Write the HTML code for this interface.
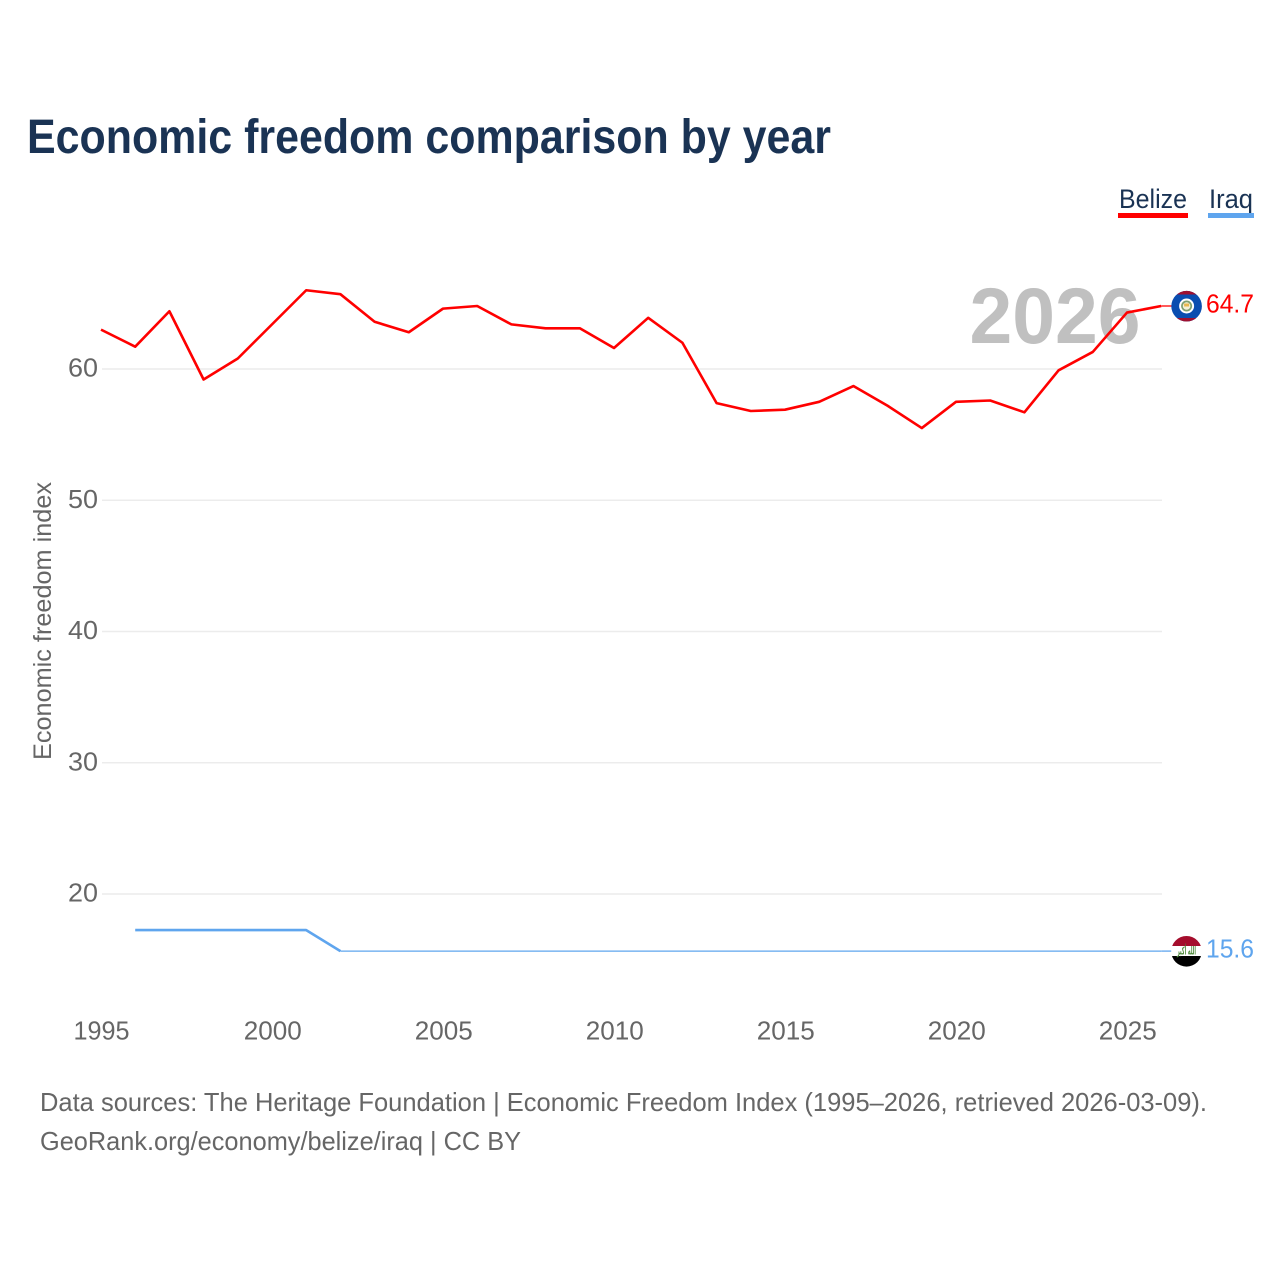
<!DOCTYPE html>
<html lang="en">
<head>
<meta charset="utf-8">
<title>Economic freedom comparison by year</title>
<style>
html,body{margin:0;padding:0;background:#fff;width:1280px;height:1280px;overflow:hidden}
svg{display:block}
text{font-family:"Liberation Sans",sans-serif}
</style>
</head>
<body>
<svg id="chart" xmlns="http://www.w3.org/2000/svg" width="1280" height="1280" viewBox="0 0 1280 1280">
  <rect width="1280" height="1280" fill="#fff"/>
  <text x="27" y="153" font-size="48" font-weight="700" fill="#1a3354" textLength="804" lengthAdjust="spacingAndGlyphs">Economic freedom comparison by year</text>

  <g>
    <text x="1119" y="208" font-size="27" fill="#1a3354" textLength="68" lengthAdjust="spacingAndGlyphs">Belize</text>
    <rect x="1118" y="213" width="70" height="5" fill="#ff0000"/>
  </g>
  <g>
    <text x="1209" y="208" font-size="27" fill="#1a3354" textLength="44" lengthAdjust="spacingAndGlyphs">Iraq</text>
    <rect x="1208" y="213" width="46" height="5" fill="#5fa5ee"/>
  </g>

  <text x="969.5" y="343" font-size="79" font-weight="700" fill="#c0c0c0" textLength="171" lengthAdjust="spacingAndGlyphs">2026</text>

  <g id="grid"></g>
  <g id="y-ticks"></g>
  <g id="x-ticks"></g>
  <text transform="translate(51 760) rotate(-90)" font-size="25" fill="#666" textLength="278" lengthAdjust="spacingAndGlyphs">Economic freedom index</text>
  <g id="series"></g>

  <defs>
    <clipPath id="belize-clip"><circle cx="1186.6" cy="306.2" r="15.3"/></clipPath>
    <clipPath id="iraq-clip"><circle cx="1186.5" cy="951.3" r="15.3"/></clipPath>
  </defs>
  <g clip-path="url(#belize-clip)">
    <rect x="1170" y="290" width="34" height="33" fill="#0a4db0"/>
    <rect x="1170" y="290" width="34" height="4.5" fill="#9e1030"/>
    <rect x="1170" y="318" width="34" height="5" fill="#9e1030"/>
    <circle cx="1186.6" cy="306" r="7.5" fill="#fff"/>
    <circle cx="1186.6" cy="306" r="5.5" fill="#7f9f70"/>
    <circle cx="1186.6" cy="306" r="3.8" fill="#f3f0d8"/>
    <rect x="1184.1" y="303.5" width="5" height="3" fill="#e8b850"/>
  </g>
  <g clip-path="url(#iraq-clip)">
    <rect x="1170" y="935" width="34" height="11" fill="#a50d2c"/>
    <rect x="1170" y="946" width="34" height="10" fill="#fff"/>
    <rect x="1170" y="956" width="34" height="12" fill="#000"/>
    <text x="1177" y="954.5" font-size="11" font-weight="700" fill="#4f8a3c" textLength="19" lengthAdjust="spacingAndGlyphs" style="font-family:'DejaVu Sans',sans-serif">الله أكبر</text>
  </g>

  <text x="1206" y="312.5" font-size="26" fill="#ff0000" textLength="48" lengthAdjust="spacingAndGlyphs">64.7</text>
  <text x="1206" y="957.5" font-size="26" fill="#5fa5ee" textLength="48" lengthAdjust="spacingAndGlyphs">15.6</text>

  <text x="40" y="1111" font-size="26" fill="#666" textLength="1167" lengthAdjust="spacingAndGlyphs">Data sources: The Heritage Foundation | Economic Freedom Index (1995–2026, retrieved 2026-03-09).</text>
  <text x="40" y="1150" font-size="26" fill="#666" textLength="481" lengthAdjust="spacingAndGlyphs">GeoRank.org/economy/belize/iraq | CC BY</text>
</svg>
<script>
const years = [1995,1996,1997,1998,1999,2000,2001,2002,2003,2004,2005,2006,2007,2008,2009,2010,2011,2012,2013,2014,2015,2016,2017,2018,2019,2020,2021,2022,2023,2024,2025,2026];
const belizeValues = [63.0,61.7,64.4,59.2,60.8,63.4,66.0,65.7,63.6,62.8,64.6,64.8,63.4,63.1,63.1,61.6,63.9,62.0,57.4,56.8,56.9,57.5,58.7,57.2,55.5,57.5,57.6,56.7,59.9,61.3,64.3,64.8];
const iraqValues = [null,17.25,17.25,17.25,17.25,17.25,17.25,15.65,15.65,15.65,15.65,15.65,15.65,15.65,15.65,15.65,15.65,15.65,15.65,15.65,15.65,15.65,15.65,15.65,15.65,15.65,15.65,15.65,15.65,15.65,15.65,15.65];
const xTickLabels = [1995,2000,2005,2010,2015,2020,2025];
const yTickLabels = [20,30,40,50,60];

const NS = 'http://www.w3.org/2000/svg';
function xScale(year){ return 101 + (year - 1995) * 34.2; }
function yScale(value){ return 894 - (value - 20) * 13.125; }

const gridLayer = document.getElementById('grid');
const yLayer = document.getElementById('y-ticks');
yTickLabels.forEach(function(v){
  const line = document.createElementNS(NS,'line');
  
  
  line.setAttribute('x1', 102);
  line.setAttribute('x2', 1162);
  line.setAttribute('y1', yScale(v));
  line.setAttribute('y2', yScale(v));
  line.setAttribute('stroke', '#ececec');
  line.setAttribute('stroke-width', 1.5);
  gridLayer.appendChild(line);
  const t = document.createElementNS(NS,'text');
  
  
  t.setAttribute('x', 68);
  t.setAttribute('y', yScale(v) + 7.5);
  t.setAttribute('font-size', 26);
  t.setAttribute('textLength', 30);
  t.setAttribute('lengthAdjust', 'spacingAndGlyphs');
  t.setAttribute('fill', '#666');
  t.textContent = v;
  yLayer.appendChild(t);
});

const xLayer = document.getElementById('x-ticks');
xTickLabels.forEach(function(y, i){
  const t = document.createElementNS(NS,'text');
  
  
  t.setAttribute('x', xScale(y) - (i === 0 ? 27.5 : 28.2));
  t.setAttribute('y', 1039.5);
  t.setAttribute('font-size', 26);
  t.setAttribute('textLength', i === 0 ? 56 : 58);
  t.setAttribute('lengthAdjust', 'spacingAndGlyphs');
  t.setAttribute('fill', '#666');
  t.textContent = y;
  xLayer.appendChild(t);
});

function pathFor(values, startYear, endYear){
  let d = '';
  years.forEach(function(y, i){
    const v = values[i];
    if (v === null || y < startYear || y > endYear) return;
    d += (d ? 'L' : 'M') + xScale(y).toFixed(2) + ' ' + yScale(v).toFixed(2);
  });
  return d;
}
const seriesLayer = document.getElementById('series');

const belizeLine = document.createElementNS(NS,'path');


belizeLine.setAttribute('d', pathFor(belizeValues, 1995, 2026));
belizeLine.setAttribute('fill', 'none');
belizeLine.setAttribute('stroke', '#ff0000');
belizeLine.setAttribute('stroke-width', 2.6);
belizeLine.setAttribute('stroke-linejoin', 'round');
seriesLayer.appendChild(belizeLine);

const iraqLineEarly = document.createElementNS(NS,'path');


iraqLineEarly.setAttribute('d', pathFor(iraqValues, 1995, 2002));
iraqLineEarly.setAttribute('fill', 'none');
iraqLineEarly.setAttribute('stroke', '#5fa5ee');
iraqLineEarly.setAttribute('stroke-width', 2.6);
iraqLineEarly.setAttribute('stroke-linejoin', 'round');
seriesLayer.appendChild(iraqLineEarly);

const iraqLineLate = document.createElementNS(NS,'path');


iraqLineLate.setAttribute('d', pathFor(iraqValues, 2002, 2026));
iraqLineLate.setAttribute('fill', 'none');
iraqLineLate.setAttribute('stroke', '#5fa5ee');
iraqLineLate.setAttribute('stroke-width', 1.3);
seriesLayer.appendChild(iraqLineLate);

[[belizeValues,'#ff0000','connector-belize'],[iraqValues,'#5fa5ee','connector-iraq']].forEach(function(s){
  const last = s[0][s[0].length - 1];
  const c = document.createElementNS(NS,'line');
  
  
  c.setAttribute('x1', xScale(2026));
  c.setAttribute('x2', 1172);
  c.setAttribute('y1', yScale(last));
  c.setAttribute('y2', yScale(last));
  c.setAttribute('stroke', s[1]);
  c.setAttribute('stroke-width', 1.3);
  seriesLayer.appendChild(c);
});
</script>
</body>
</html>
